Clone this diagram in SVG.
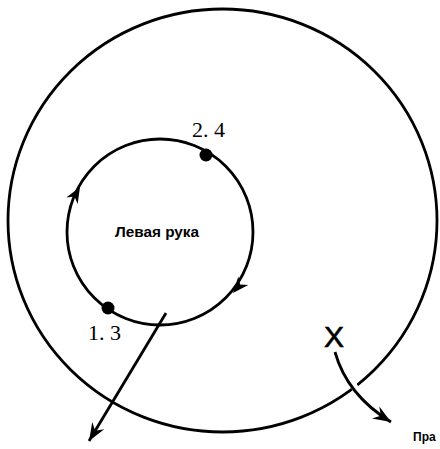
<svg xmlns="http://www.w3.org/2000/svg" width="440" height="449" viewBox="0 0 440 449">
  <style>
    .ln { fill: none; stroke: #000; stroke-width: 2.8; }
    .halo { fill: none; stroke: #fff; stroke-width: 7; }
    .num { font-family: "Liberation Serif", serif; font-size: 22px; fill: #000; }
    .lbl { font-family: "Liberation Sans", "DejaVu Sans", sans-serif; font-weight: bold; fill: #000; }
    .big { font-family: "Liberation Sans", "DejaVu Sans", sans-serif; font-size: 30px; fill: #000; stroke: #000; stroke-width: 0.6; }
  </style>
  <defs>
    <path id="ah" d="M0,0 L-16,-6.5 L-11,0 L-16,6.5 Z" fill="#000"/>
    <marker id="arr" viewBox="-19 -8 21 16" refX="0" refY="0" markerWidth="21" markerHeight="16" markerUnits="userSpaceOnUse" orient="auto">
      <path d="M0,0 L-18,-7 L-12,0 L-18,7 Z" fill="#000"/>
    </marker>
  </defs>
  <rect width="440" height="449" fill="#fff"/>

  <g id="outer">
    <ellipse class="ln" cx="222.5" cy="220.5" rx="214.5" ry="211.5"/>
  </g>

  <g id="inner">
    <circle class="ln" cx="160" cy="232" r="93"/>
    <use href="#ah" transform="translate(80,187) rotate(-60)"/>
    <use href="#ah" transform="translate(233,293) rotate(130)"/>
    <text class="lbl" x="157" y="237" font-size="14" text-anchor="middle" textLength="84" lengthAdjust="spacingAndGlyphs">Левая рука</text>
  </g>

  <g id="p24">
    <circle cx="206" cy="155" r="6.5" fill="#000"/>
    <text class="num" x="192" y="137">2. 4</text>
  </g>

  <g id="p13">
    <circle cx="108" cy="308" r="6.5" fill="#000"/>
    <text class="num" x="88" y="340">1. 3</text>
  </g>

  <g id="x">
    <text class="big" x="324" y="347">X</text>
  </g>

  <g id="right-label">
    <text class="lbl" x="413" y="441" font-size="12">Пра</text>
  </g>

  <g id="connectors">
    <path class="halo" d="M348,372 Q352,388 366,400"/>
    <path class="ln" d="M335,352 Q347,395 391,422" marker-end="url(#arr)"/>
    <path class="ln" d="M166,313 L89,441" marker-end="url(#arr)"/>
  </g>
</svg>
